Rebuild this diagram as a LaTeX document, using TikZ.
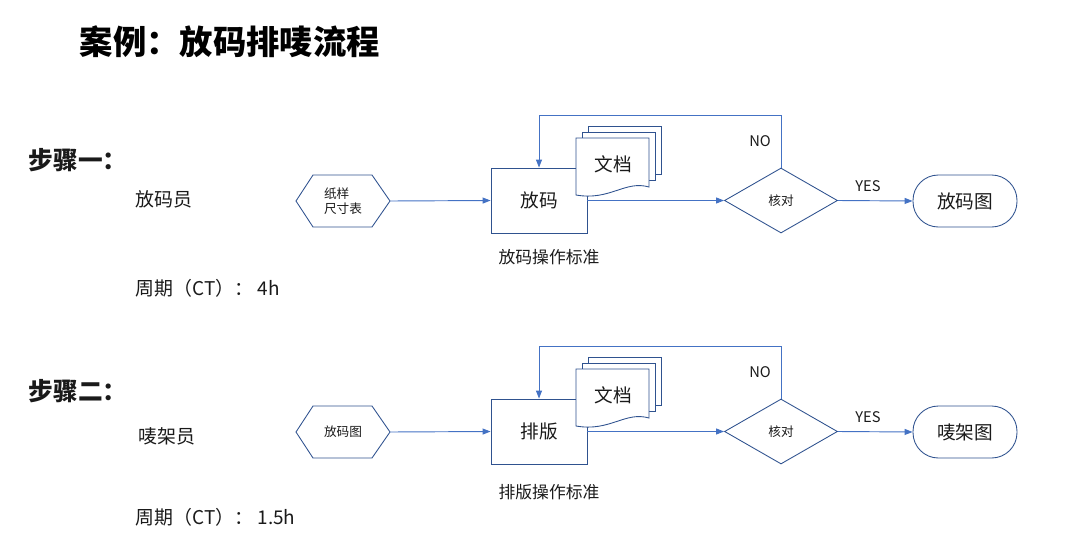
\documentclass[tikz,border=0pt]{standalone}
\usepackage{fontspec}
\setmainfont{Noto Sans CJK SC}
\usetikzlibrary{arrows.meta,shapes.geometric,calc}
\definecolor{shp}{HTML}{2F528F}
\definecolor{lnk}{HTML}{4472C4}
\definecolor{txt}{HTML}{1A1A1A}
\begin{document}
\begin{tikzpicture}[x=0.75pt,y=-0.75pt,
  every node/.style={text=txt},
  shapeline/.style={draw=shp,line width=0.65pt},
  procbox/.style={shapeline,fill=white,minimum width=72pt,minimum height=48.75pt,inner sep=0pt,font=\fontsize{14}{16}\selectfont},
  hexbox/.style={minimum width=70.5pt,minimum height=38.25pt,inner sep=0pt,font=\fontsize{9.5}{11.5}\selectfont,align=left},
  checkbox/.style={shapeline,diamond,fill=white,minimum width=84.75pt,minimum height=48.75pt,inner sep=0pt,font=\fontsize{9.5}{11}\selectfont},
  termbox/.style={shapeline,fill=white,rounded corners=19pt,minimum width=78pt,minimum height=39pt,inner sep=0pt,font=\fontsize{14}{16}\selectfont},
  docpage/.style={shapeline,fill=white},
  arr/.style={draw=lnk,line width=0.7pt,-{Triangle[length=6pt,width=4.5pt]}},
  plain/.style={font=\fontsize{12.6}{15}\selectfont},
  sidelabel/.style={font=\fontsize{14.2}{17}\selectfont,anchor=west},
  yesno/.style={font=\fontsize{11}{13}\selectfont},
  stephead/.style={font=\bfseries\fontsize{18.5}{22}\selectfont,anchor=west},
]
\useasboundingbox (0,0) rectangle (1065,554);

% title
\node[anchor=west,font=\bfseries\fontsize{25}{30}\selectfont,text=black] (title) at (75,42) {案例：放码排唛流程};

% ---------------- Row 1 ----------------
\node[stephead] (s1) at (24,160) {步骤一：};
\node[sidelabel] (r1) at (131,199) {放码员};
\node[sidelabel] (c1) at (131,288) {周期（CT）： 4h};

\draw[shapeline] (296,201) -- (313,175) -- (372,175) -- (390,201) -- (372,227) -- (313,227) -- cycle;
\node[hexbox] (h1) at (343,201) {纸样\\尺寸表};

\node[procbox] (b1) at (539,200.5) {放码};
\draw[docpage] (588,126) rectangle (661,174);
\draw[docpage] (582,132) rectangle (655,180);
\draw[docpage] (576,138) -- (649,138) -- (649,187) .. controls (625,180) and (610,201) .. (576,195) -- cycle;
\node[font=\fontsize{14}{16}\selectfont] (doc1) at (613,164) {文档};
\node[plain] (std1) at (549,257) {放码操作标准};

\node[checkbox] (d1) at (781,200.5) {核对};
\node[termbox] (e1) at (965,201) {放码图};

\draw[arr] (h1.east) -- (b1.west);
\draw[arr] (b1.east) -- (d1.west);
\draw[arr] (d1.east) -- (e1.west);
\coordinate (t1) at (539,115);
\draw[arr] (d1.north) |- (t1) -- (b1.north);
\node[yesno] (no1) at (760,141) {NO};
\node[yesno] (yes1) at (868,186) {YES};

% ---------------- Row 2 ----------------
\node[stephead] (s2) at (24,391) {步骤二：};
\node[sidelabel] (r2) at (134,436) {唛架员};
\node[sidelabel] (c2) at (131,517) {周期（CT）： 1.5h};

\draw[shapeline] (296,432) -- (313,406) -- (372,406) -- (390,432) -- (372,458) -- (313,458) -- cycle;
\node[hexbox] (h2) at (343,432) {放码图};

\node[procbox] (b2) at (539,431.5) {排版};
\draw[docpage] (588,357) rectangle (661,405);
\draw[docpage] (582,363) rectangle (655,411);
\draw[docpage] (576,369) -- (649,369) -- (649,418) .. controls (625,411) and (610,432) .. (576,426) -- cycle;
\node[font=\fontsize{14}{16}\selectfont] (doc2) at (613,395) {文档};
\node[plain] (std2) at (549,492) {排版操作标准};

\node[checkbox] (d2) at (781,431.5) {核对};
\node[termbox] (e2) at (965,432) {唛架图};

\draw[arr] (h2.east) -- (b2.west);
\draw[arr] (b2.east) -- (d2.west);
\draw[arr] (d2.east) -- (e2.west);
\coordinate (t2) at (539,346);
\draw[arr] (d2.north) |- (t2) -- (b2.north);
\node[yesno] (no2) at (760,372) {NO};
\node[yesno] (yes2) at (868,417) {YES};
\end{tikzpicture}
\end{document}
